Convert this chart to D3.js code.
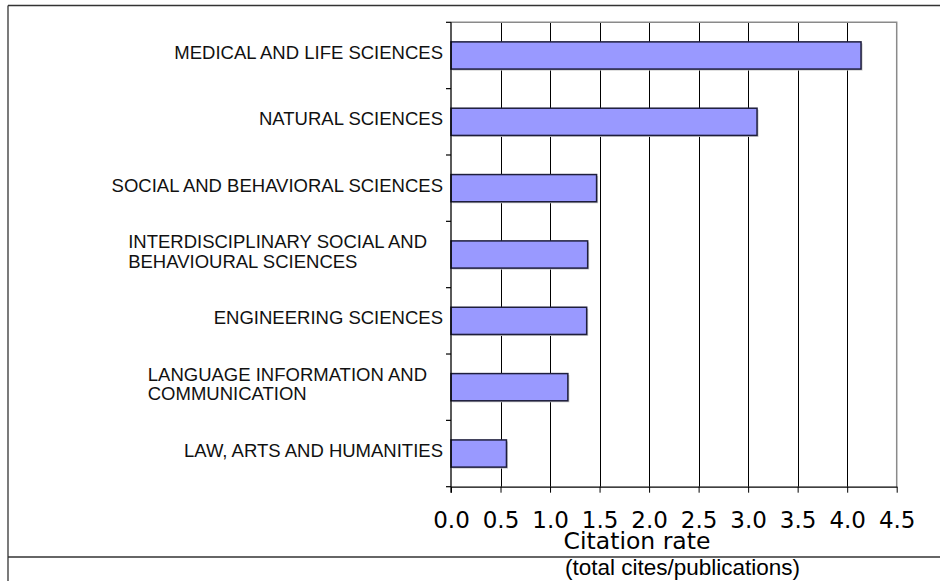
<!DOCTYPE html>
<html>
<head>
<meta charset="utf-8">
<script src="https://cdn.jsdelivr.net/npm/d3@7"></script>
<style>
  html, body { margin: 0; padding: 0; background: #fff; }
  svg { display: block; }
</style>
</head>
<body>
<svg id="chart" width="940" height="581"></svg>
<script>
// ---- data ----
const categories = [
  "MEDICAL AND LIFE SCIENCES",
  "NATURAL SCIENCES",
  "SOCIAL AND BEHAVIORAL SCIENCES",
  "INTERDISCIPLINARY SOCIAL AND\nBEHAVIOURAL SCIENCES",
  "ENGINEERING SCIENCES",
  "LANGUAGE INFORMATION AND\nCOMMUNICATION",
  "LAW, ARTS AND HUMANITIES"
];
const citationRates = [4.14, 3.09, 1.47, 1.38, 1.37, 1.18, 0.56];
const xTickValues = [0, 0.5, 1, 1.5, 2, 2.5, 3, 3.5, 4, 4.5];
const xTitle = "Citation rate";
const xSubtitle = "(total cites/publications)";

// ---- layout ----
const svg = d3.select("#chart");
const plot = { left: 451, right: 896.7, top: 22.3, bottom: 486.7 };

const x = d3.scaleLinear().domain([0, 4.5]).range([plot.left, plot.right]);
const y = d3.scaleBand().domain(categories)
  .range([plot.top, plot.bottom]).paddingInner(0.59).paddingOuter(0.295);
const step = y.step();

// outer frame
const frame = svg.append("g").attr("stroke", "#333").attr("fill", "none");
frame.append("line").attr("x1", 8).attr("x2", 940).attr("y1", 5.5).attr("y2", 5.5).attr("stroke-width", 1.6);
frame.append("line").attr("x1", 8).attr("x2", 8).attr("y1", 5.5).attr("y2", 581).attr("stroke-width", 1.3);
frame.append("line").attr("x1", 8).attr("x2", 940).attr("y1", 557).attr("y2", 557).attr("stroke-width", 1.3);

// gridlines
svg.append("g").selectAll("line").data(xTickValues.filter(v => v > 0 && v < 4.5)).join("line")
  .attr("x1", d => Math.round(x(d)) + 0.5).attr("x2", d => Math.round(x(d)) + 0.5)
  .attr("y1", plot.top).attr("y2", plot.bottom)
  .attr("stroke", "#000").attr("stroke-width", 1);

// plot area border (top & right gray)
svg.append("path")
  .attr("d", `M${plot.left},${plot.top}H${plot.right}V${plot.bottom}`)
  .attr("fill", "none").attr("stroke", "#8a8a8a").attr("stroke-width", 1.5);

// bars with shadow
const bars = svg.append("g");
bars.selectAll("rect.shadow").data(categories).join("rect").attr("class", "shadow")
  .attr("x", x(0) + 1.5).attr("y", d => y(d) + 1.5)
  .attr("width", (d, i) => x(citationRates[i]) - x(0))
  .attr("height", y.bandwidth())
  .attr("fill", "#c8c8c8");
bars.selectAll("rect.bar").data(categories).join("rect").attr("class", "bar")
  .attr("x", x(0)).attr("y", d => y(d))
  .attr("width", (d, i) => x(citationRates[i]) - x(0))
  .attr("height", y.bandwidth())
  .attr("fill", "#9999ff").attr("stroke", "#1e1e3c").attr("stroke-width", 1.5);

// x axis
const xAxis = d3.axisBottom(x).tickValues(xTickValues).tickSize(6).tickSizeOuter(0)
  .tickFormat(d3.format(".1f"));
const gx = svg.append("g").attr("transform", `translate(0,${plot.bottom})`).call(xAxis);
gx.select(".domain").attr("stroke", "#000").attr("stroke-width", 1.3);
gx.selectAll(".tick line").attr("stroke", "#000");
gx.selectAll(".tick text")
  .attr("y", 0).attr("dy", null)
  .attr("transform", "translate(0,41)")
  .attr("font-family", "'DejaVu Sans', sans-serif")
  .attr("font-size", 23).attr("fill", "#000");

// y axis (category ticks only)
const boundaries = d3.range(categories.length + 1).map(i => plot.top + i * step);
svg.append("g").selectAll("line").data(boundaries).join("line")
  .attr("x1", plot.left - 5).attr("x2", plot.left)
  .attr("y1", d => d).attr("y2", d => d)
  .attr("stroke", "#000").attr("stroke-width", 1.2);
svg.append("line").attr("x1", plot.left).attr("x2", plot.left)
  .attr("y1", plot.top).attr("y2", plot.bottom + 6)
  .attr("stroke", "#000").attr("stroke-width", 1.3);

// category labels
const labelFont = "'Liberation Sans', Arial, sans-serif";
const labels = svg.append("g").attr("font-family", labelFont).attr("font-size", 18.5).attr("fill", "#111");
categories.forEach((c, i) => {
  const lines = c.split("\n");
  const cy = y(c) + y.bandwidth() / 2 - 3;
  if (lines.length === 1) {
    labels.append("text").attr("x", 443).attr("y", cy + 6.5)
      .attr("text-anchor", "end").text(lines[0]);
  } else {
    const g = labels.append("g");
    const lh = 19.3;
    const t = g.append("text");
    lines.forEach((ln, j) => {
      t.append("tspan").attr("x", 0).attr("y", cy - (lines.length - 1) * lh / 2 + 6.5 + j * lh).text(ln);
    });
    const w = t.node().getBBox().width;
    g.attr("transform", `translate(${427 - w},0)`);
  }
});

// axis titles
svg.append("text").attr("x", 637).attr("y", 549).attr("text-anchor", "middle")
  .attr("font-family", "'DejaVu Sans', sans-serif").attr("font-size", 23.5).text(xTitle);
svg.append("text").attr("x", 682.5).attr("y", 575).attr("text-anchor", "middle")
  .attr("font-family", labelFont).attr("font-size", 22.5).text(xSubtitle);
</script>
</body>
</html>
